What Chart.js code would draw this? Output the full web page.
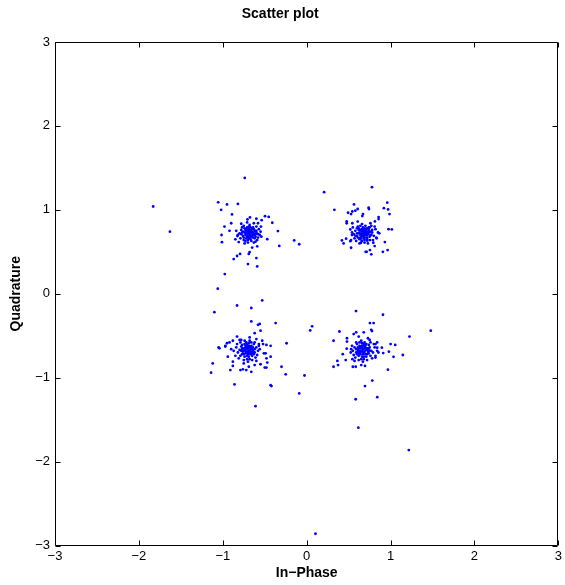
<!DOCTYPE html>
<html>
<head>
<meta charset="utf-8">
<script src="https://cdn.jsdelivr.net/npm/chart.js"></script>
<style>
  html, body { margin: 0; padding: 0; background: #fff; }
</style>
</head>
<body>
<canvas id="scatter" width="565" height="585"></canvas>
<script>
// tick positions on both axes
const xTicks = [-3, -2, -1, 0, 1, 2, 3];
const yTicks = [-3, -2, -1, 0, 1, 2, 3];

// received symbols, grouped by quadrant
const upperLeft = [
  [-1.055,1.09],[-0.95,1.065],[-0.82,1.07],[-1.02,1.00],[-0.89,0.945],[-0.98,0.80],[-1.015,0.70],
  [-1.01,0.615],[-0.90,0.84],[-0.92,0.75],[-0.497,0.925],[-0.453,0.915],[-0.41,0.846],[-0.537,0.877],
  [-0.60,0.894],[-0.676,0.91],[-0.343,0.747],[-0.327,0.57],[-0.47,0.65],[-0.59,0.565],[-0.65,0.55],
  [-0.68,0.497],[-0.69,0.474],[-0.794,0.474],[-0.83,0.45],[-0.87,0.413],[-0.60,0.425],[-0.70,0.354],
  [-0.59,0.326],[-0.976,0.235],[-0.825,0.688],[-0.85,0.648],[-0.81,0.616],[-0.54,0.68],[-0.545,0.80],
  [-0.58,0.84],[-0.78,0.834],[-0.706,0.886],
  [-0.68,0.73],[-0.66,0.76],[-0.70,0.70],[-0.63,0.72],[-0.72,0.77],[-0.65,0.68],[-0.74,0.73],[-0.60,0.75],
  [-0.69,0.80],[-0.67,0.65],[-0.76,0.69],[-0.61,0.68],[-0.64,0.79],[-0.71,0.74],[-0.58,0.71],[-0.73,0.63],
  [-0.78,0.76],[-0.66,0.71],[-0.62,0.75],[-0.69,0.77],[-0.75,0.81],[-0.56,0.70],[-0.70,0.61],[-0.80,0.72],
  [-0.63,0.84],[-0.67,0.68],[-0.59,0.64],[-0.72,0.66],[-0.77,0.79],[-0.65,0.74],[-0.82,0.70],[-0.57,0.77],
  [-0.68,0.82],[-0.74,0.60],[-0.61,0.62],[-0.70,0.75],[-0.79,0.66],[-0.64,0.70],[-0.55,0.74],[-0.71,0.85],
  [-0.66,0.63],[-0.76,0.74],[-0.60,0.80],[-0.73,0.70],[-0.68,0.67],[-0.84,0.75],[-0.62,0.66],[-0.69,0.71],
  [-0.65,0.78],[-0.75,0.64],[-0.58,0.67],[-0.71,0.79],[-0.67,0.75],[-0.63,0.61],[-0.78,0.71],[-0.70,0.68],
  [-0.64,0.73],[-0.72,0.72],[-0.66,0.69],[-0.69,0.74],
  [-0.73,0.76],[-0.62,0.70],[-0.67,0.79],[-0.75,0.67],[-0.60,0.73],[-0.70,0.64],[-0.64,0.67],[-0.77,0.73],
  [-0.68,0.70],[-0.66,0.74],[-0.71,0.68],[-0.63,0.77],[-0.74,0.78],[-0.69,0.66],[-0.61,0.71],[-0.72,0.75]
];

const upperRight = [
  [0.33,1.00],[0.564,1.065],[0.493,0.965],[0.544,0.98],[0.58,0.99],[0.608,1.01],[0.738,1.025],[0.742,1.01],
  [0.96,1.085],[0.92,1.02],[0.97,1.005],[0.987,0.95],[0.857,0.914],[0.857,0.89],[0.813,0.862],[0.671,0.95],
  [0.663,0.926],[0.608,0.86],[0.529,0.95],[0.477,0.862],[0.477,0.84],[0.544,0.84],[0.52,0.767],[0.54,0.70],
  [0.529,0.64],[0.52,0.627],[0.47,0.656],[0.42,0.636],[0.44,0.60],[0.529,0.548],[0.647,0.608],[0.655,0.632],
  [0.722,0.632],[0.754,0.64],[0.794,0.608],[0.81,0.568],[0.754,0.52],[0.703,0.50],[0.715,0.50],[0.77,0.47],
  [0.908,0.50],[0.964,0.52],[0.932,0.616],[0.976,0.77],[1.015,0.767],[0.865,0.72],[0.833,0.66],
  [0.68,0.72],[0.70,0.75],[0.66,0.69],[0.73,0.71],[0.64,0.76],[0.71,0.67],[0.62,0.72],[0.76,0.74],
  [0.67,0.79],[0.69,0.64],[0.60,0.69],[0.75,0.68],[0.72,0.78],[0.65,0.71],[0.78,0.73],[0.63,0.65],
  [0.58,0.75],[0.70,0.70],[0.74,0.76],[0.67,0.74],[0.61,0.80],[0.80,0.69],[0.56,0.71],[0.69,0.61],
  [0.66,0.83],[0.77,0.81],[0.59,0.63],[0.72,0.65],[0.64,0.70],[0.68,0.76],[0.82,0.77],[0.54,0.73],
  [0.71,0.72],[0.65,0.67],[0.75,0.79],[0.62,0.76],[0.83,0.67],[0.57,0.66],[0.70,0.81],[0.66,0.63],
  [0.79,0.64],[0.60,0.78],[0.73,0.60],[0.67,0.71],[0.85,0.73],[0.55,0.79],[0.68,0.68],[0.76,0.84],
  [0.63,0.60],[0.81,0.80],[0.58,0.69],[0.71,0.77],[0.64,0.81],[0.77,0.70],[0.69,0.73],[0.61,0.67],
  [0.74,0.73],[0.66,0.77],[0.72,0.70],[0.68,0.66],
  [0.71,0.74],[0.63,0.73],[0.69,0.78],[0.76,0.70],[0.65,0.75],[0.72,0.67],[0.60,0.72],[0.78,0.76],
  [0.67,0.69],[0.70,0.72],[0.64,0.67],[0.74,0.79],[0.66,0.72],[0.73,0.74],[0.62,0.78],[0.69,0.70]
];

const lowerLeft = [
  [-0.53,-0.08],[-0.83,-0.14],[-0.66,-0.17],[-0.66,-0.33],[-0.56,-0.36],[-0.58,-0.37],[-0.37,-0.35],
  [-0.55,-0.44],[-0.62,-0.47],[-0.24,-0.59],[-0.83,-0.51],[-0.95,-0.59],[-0.97,-0.63],[-0.94,-0.75],
  [-0.88,-0.81],[-0.88,-0.86],[-0.91,-0.91],[-0.30,-0.87],[-0.48,-0.88],[-0.25,-0.96],[-0.86,-1.08],
  [-0.43,-1.09],[-0.42,-1.10],[-0.61,-1.34],[-0.43,-0.75],[-0.43,-0.62],[-0.48,-0.61],[-0.49,-0.71],
  [-0.51,-0.71],[-0.48,-0.77],[-0.47,-0.82],[-0.55,-0.84],[-0.50,-0.88],[-0.66,-0.93],[-0.72,-0.91],
  [-0.76,-0.90],[-0.79,-0.91],[-0.62,-0.85],[-0.69,-0.87],[-0.75,-0.83],[-0.90,-0.66],[-0.92,-0.58],
  [-0.88,-0.56],[-0.80,-0.55],[-0.74,-0.56],[-0.68,-0.52],[-0.60,-0.54],[-0.53,-0.56],[-0.52,-0.60],
  [-0.57,-0.60],[-1.04,-0.65],[-1.14,-0.94],[-1.12,-0.83],[-1.05,-0.64],[-0.97,-0.62],
  [-0.70,-0.66],[-0.72,-0.64],[-0.68,-0.70],[-0.75,-0.68],[-0.66,-0.62],[-0.73,-0.71],[-0.64,-0.67],
  [-0.78,-0.63],[-0.69,-0.59],[-0.71,-0.74],[-0.62,-0.70],[-0.77,-0.72],[-0.74,-0.60],[-0.67,-0.65],
  [-0.80,-0.67],[-0.65,-0.74],[-0.60,-0.64],[-0.72,-0.69],[-0.76,-0.65],[-0.69,-0.62],[-0.63,-0.60],
  [-0.82,-0.70],[-0.58,-0.68],[-0.71,-0.78],[-0.68,-0.56],[-0.79,-0.58],[-0.61,-0.76],[-0.74,-0.75],
  [-0.66,-0.69],[-0.70,-0.63],[-0.84,-0.64],[-0.56,-0.66],[-0.73,-0.67],[-0.67,-0.72],[-0.77,-0.61],
  [-0.64,-0.64],[-0.85,-0.74],[-0.59,-0.73],[-0.72,-0.58],[-0.68,-0.78],[-0.81,-0.77],[-0.62,-0.58],
  [-0.75,-0.79],[-0.69,-0.68],[-0.87,-0.68],[-0.57,-0.62],[-0.70,-0.81],[-0.78,-0.55],[-0.65,-0.79],
  [-0.83,-0.60],[-0.60,-0.80],[-0.73,-0.62],[-0.66,-0.58],[-0.79,-0.74],[-0.71,-0.70],[-0.63,-0.72],
  [-0.76,-0.69],[-0.68,-0.63],[-0.74,-0.65],[-0.70,-0.72],
  [-0.67,-0.67],[-0.73,-0.65],[-0.71,-0.60],[-0.65,-0.71],[-0.78,-0.68],[-0.69,-0.75],[-0.62,-0.66],
  [-0.75,-0.72],[-0.70,-0.69],[-0.66,-0.65],[-0.72,-0.62],[-0.64,-0.69],[-0.77,-0.66],[-0.69,-0.64]
];

const lowerRight = [
  [0.588,-0.206],[0.909,-0.25],[0.754,-0.35],[0.798,-0.35],[0.770,-0.43],[0.778,-0.445],[0.39,-0.45],
  [0.68,-0.46],[0.56,-0.48],[0.59,-0.46],[1.225,-0.51],[0.32,-0.56],[0.48,-0.53],[0.48,-0.57],
  [0.62,-0.51],[0.73,-0.53],[0.84,-0.58],[1.00,-0.60],[1.055,-0.61],[0.896,-0.643],[0.98,-0.69],
  [1.035,-0.752],[1.146,-0.73],[0.912,-0.707],[0.43,-0.72],[0.465,-0.79],[0.366,-0.80],[0.374,-0.85],
  [0.32,-0.87],[0.55,-0.87],[0.584,-0.87],[0.65,-0.85],[0.695,-0.86],[0.968,-0.905],[0.782,-1.035],
  [0.695,-1.10],[0.584,-1.257],[0.841,-1.233],[0.477,-0.655],[0.525,-0.70],[0.545,-0.78],[0.82,-0.76],
  [0.855,-0.70],[0.84,-0.643],[0.82,-0.60],
  [0.67,-0.66],[0.69,-0.63],[0.65,-0.69],[0.72,-0.67],[0.63,-0.62],[0.70,-0.72],[0.61,-0.67],[0.75,-0.64],
  [0.66,-0.59],[0.68,-0.75],[0.59,-0.70],[0.74,-0.71],[0.71,-0.60],[0.64,-0.65],[0.77,-0.68],[0.62,-0.74],
  [0.57,-0.64],[0.69,-0.69],[0.73,-0.65],[0.66,-0.62],[0.60,-0.60],[0.79,-0.70],[0.55,-0.68],[0.68,-0.78],
  [0.65,-0.56],[0.76,-0.58],[0.58,-0.76],[0.71,-0.75],[0.63,-0.69],[0.67,-0.63],[0.81,-0.64],[0.53,-0.66],
  [0.70,-0.67],[0.64,-0.72],[0.74,-0.61],[0.61,-0.64],[0.82,-0.74],[0.56,-0.73],[0.69,-0.58],[0.65,-0.78],
  [0.78,-0.77],[0.59,-0.58],[0.72,-0.79],[0.66,-0.68],[0.84,-0.68],[0.54,-0.62],[0.67,-0.81],[0.75,-0.55],
  [0.62,-0.79],[0.80,-0.60],[0.57,-0.80],[0.70,-0.62],[0.63,-0.58],[0.76,-0.74],[0.68,-0.70],[0.60,-0.72],
  [0.73,-0.69],[0.65,-0.63],[0.71,-0.65],[0.67,-0.72],
  [0.64,-0.68],[0.70,-0.65],[0.68,-0.60],[0.62,-0.71],[0.75,-0.68],[0.66,-0.75],[0.59,-0.66],[0.72,-0.72],
  [0.67,-0.69],[0.63,-0.65],[0.69,-0.62],[0.61,-0.69],[0.74,-0.66],[0.66,-0.64]
];

// points far from any cluster
const strays = [
  [-1.83,1.04],[-1.63,0.74],[-0.738,1.38],[0.208,1.21],[0.778,1.27],[-0.149,0.636],[-0.089,0.59],
  [-1.06,0.06],[-1.10,-0.22],[0.042,-0.437],[0.065,-0.388],[-0.026,-0.974],[-0.089,-1.188],
  [1.479,-0.44],[0.616,-1.596],[1.217,-1.863],[0.105,-2.86]
];

const allPoints = [].concat(upperLeft, upperRight, lowerLeft, lowerRight, strays)
  .map(p => ({ x: p[0], y: p[1] }));

const tickFont = { family: 'Liberation Sans, Arial, sans-serif', size: 13 };
const boldFont = { family: 'Liberation Sans, Arial, sans-serif', size: 14, weight: 'bold' };
const minus = v => String(v).replace('-', '\u2212');

// MATLAB style box with inward ticks on all four sides
const boxPlugin = {
  id: 'box',
  afterDraw(chart) {
    const { ctx, chartArea: a, scales: { x, y } } = chart;
    const L = Math.round(a.left) + 0.5, R = Math.round(a.right) - 0.5;
    const T = Math.round(a.top) + 0.5, B = Math.round(a.bottom) - 0.5;
    ctx.save();
    ctx.strokeStyle = '#000';
    ctx.lineWidth = 1;
    ctx.beginPath();
    ctx.rect(L, T, R - L, B - T);
    xTicks.forEach(v => {
      const px = Math.round(x.getPixelForValue(v)) + 0.5;
      ctx.moveTo(px, B); ctx.lineTo(px, B - 5);
      ctx.moveTo(px, T); ctx.lineTo(px, T + 5);
    });
    yTicks.forEach(v => {
      const py = Math.round(y.getPixelForValue(v)) + 0.5;
      ctx.moveTo(L, py); ctx.lineTo(L + 5, py);
      ctx.moveTo(R, py); ctx.lineTo(R - 5, py);
    });
    ctx.stroke();
    ctx.restore();
  }
};

new Chart(document.getElementById('scatter'), {
  type: 'scatter',
  data: {
    datasets: [{
      data: allPoints,
      pointRadius: 1.4,
      pointHoverRadius: 1.4,
      pointBorderWidth: 0,
      pointBackgroundColor: '#0000ff',
      borderColor: '#0000ff'
    }]
  },
  options: {
    responsive: false,
    animation: false,
    layout: { padding: { left: 0, right: 4.5, top: 0, bottom: 0 } },
    plugins: {
      legend: { display: false },
      tooltip: { enabled: false },
      title: {
        display: true,
        text: 'Scatter plot',
        color: '#000',
        font: boldFont,
        padding: { top: 6, bottom: 19.2 }
      }
    },
    scales: {
      x: {
        type: 'linear',
        min: -3, max: 3,
        afterBuildTicks: s => { s.ticks = xTicks.map(v => ({ value: v })); },
        afterFit: s => { s.height = 39.5; },
        grid: { display: false, drawTicks: false },
        border: { display: false },
        ticks: { color: '#000', font: tickFont, padding: 3, callback: minus, maxRotation: 0 },
        title: { display: true, text: 'In\u2212Phase', color: '#000', font: boldFont, padding: { top: 0, bottom: 3 } }
      },
      y: {
        type: 'linear',
        min: -3, max: 3,
        afterBuildTicks: s => { s.ticks = yTicks.map(v => ({ value: v })); },
        afterFit: s => { s.width = 55; },
        grid: { display: false, drawTicks: false },
        border: { display: false },
        ticks: { color: '#000', font: tickFont, padding: 5, callback: minus },
        title: { display: true, text: 'Quadrature', color: '#000', font: boldFont, padding: { top: 8, bottom: 0 } }
      }
    }
  },
  plugins: [boxPlugin]
});
</script>
</body>
</html>
